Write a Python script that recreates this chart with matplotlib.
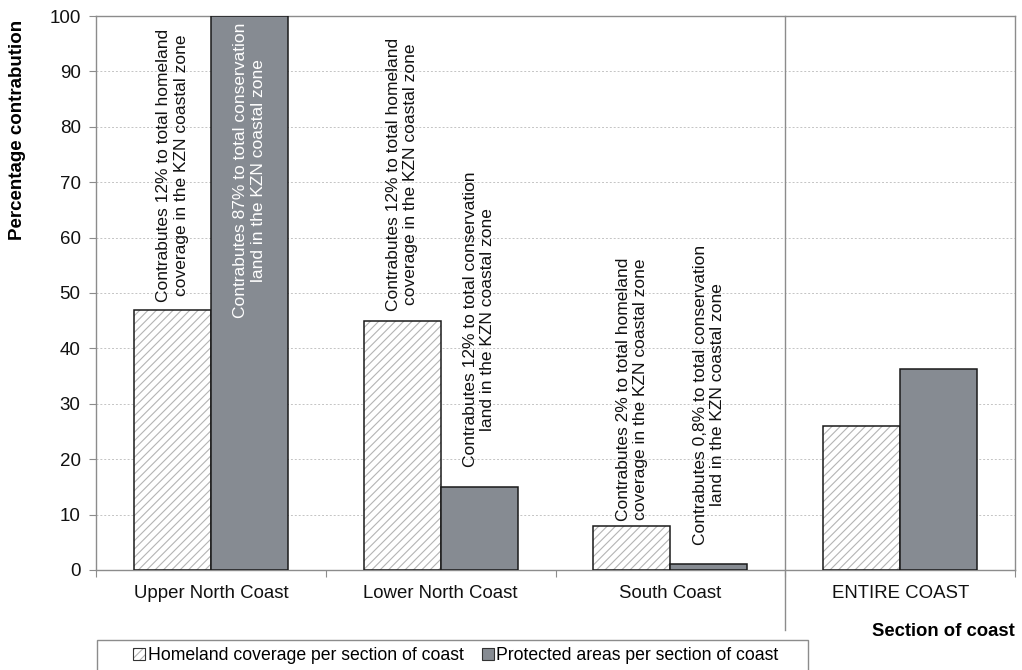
import numpy as np
import matplotlib.pyplot as plt
from matplotlib.patches import Patch, Rectangle
import matplotlib.transforms as mtransforms

plt.rcParams['font.family'] = ['Liberation Sans', 'DejaVu Sans']
plt.rcParams['hatch.linewidth'] = 0.8

sections = ['Upper North Coast', 'Lower North Coast', 'South Coast', 'ENTIRE COAST']
homeland = [47, 45, 8, 26]
protected = [100, 15, 1, 36.2]

homeland_notes = [
    'Contrabutes 12% to total homeland\ncoverage in the KZN coastal zone',
    'Contrabutes 12% to total homeland\ncoverage in the KZN coastal zone',
    'Contrabutes 2% to total homeland\ncoverage in the KZN coastal zone',
]
protected_notes = [
    'Contrabutes 87% to total conservation\nland in the KZN coastal zone',
    'Contrabutes 12% to total conservation\nland in the KZN coastal zone',
    'Contrabutes 0,8% to total conservation\nland in the KZN coastal zone',
]
# where each note starts (bottom of the rotated text), in axis units
homeland_note_y = [48.4, 46.8, 8.8]
protected_note_y = [45.5, 18.6, 4.5]

hatch_grey = '#b4b4b4'
fill_grey = '#868b92'
frame_grey = '#8c8c8c'

fig = plt.figure(figsize=(10.22, 6.70), dpi=100)
ax = fig.add_axes([0.0939, 0.1493, 0.9932 - 0.0939, 0.9761 - 0.1493])

x = np.arange(len(sections))
w = 0.335

ax.bar(x - w / 2, homeland, w, color='white', edgecolor=hatch_grey,
       hatch='////', linewidth=0, zorder=2)
ax.bar(x - w / 2, homeland, w, color='none', edgecolor='#1a1a1a',
       linewidth=1.1, zorder=3)
ax.bar(x + w / 2, protected, w, color=fill_grey, edgecolor='#1a1a1a',
       linewidth=1.1, zorder=3)

for i, note in enumerate(homeland_notes):
    ax.text(x[i] - w / 2, homeland_note_y[i], note, rotation=90,
            ha='center', va='bottom', multialignment='center',
            fontsize=12.5, color='#111111', linespacing=1.22, zorder=4)
for i, note in enumerate(protected_notes):
    ax.text(x[i] + w / 2, protected_note_y[i], note, rotation=90,
            ha='center', va='bottom', multialignment='center',
            fontsize=12.5, color='white' if protected[i] > 50 else '#111111',
            linespacing=1.22, zorder=4)

ax.set_xlim(-0.5, len(sections) - 0.5)
ax.set_ylim(0, 100)
ax.set_yticks(np.arange(0, 101, 10))
ax.yaxis.grid(True, color='#c4c4c4', linestyle=(0, (2, 2)), linewidth=0.7)
ax.set_axisbelow(True)

# category labels sit between the boundary ticks
ax.set_xticks(np.arange(-0.5, len(sections), 1.0))
ax.set_xticklabels([])
ax.set_xticks(x, minor=True)
ax.set_xticklabels(sections, minor=True, fontsize=13.4, color='#111111')
ax.tick_params(axis='x', which='minor', length=0, pad=11)
ax.tick_params(axis='x', which='major', length=5, color=frame_grey)
ax.tick_params(axis='y', length=5, color=frame_grey, labelsize=13.5,
               labelcolor='#111111', pad=6)

for s in ax.spines.values():
    s.set_color(frame_grey)
    s.set_linewidth(1.0)

# divider in front of the whole-coast group, running down past the axis
trans = mtransforms.blended_transform_factory(ax.transData, ax.transAxes)
ax.plot([2.5, 2.5], [1, -0.108], transform=trans, color=frame_grey,
        linewidth=1.0, clip_on=False, zorder=1)

ax.set_ylabel('Percentage contrabution', fontsize=13.5, fontweight='bold')
ax.yaxis.set_label_coords(-0.076, 0.795)

fig.text(0.993, 0.057, 'Section of coast', ha='right', va='center',
         fontsize=13.3, fontweight='bold')

# legend
fig.patches.append(Rectangle((97 / 1022, -0.02), (808 - 97) / 1022, 0.065,
                             transform=fig.transFigure, facecolor='white',
                             edgecolor=frame_grey, linewidth=1.0))
h1 = (Patch(facecolor='white', edgecolor=hatch_grey, hatch='////', linewidth=0),
      Patch(facecolor='none', edgecolor='#333333', linewidth=0.8))
h2 = Patch(facecolor=fill_grey, edgecolor='#333333', linewidth=0.8)
fig.legend([h1, h2], ['Homeland coverage per section of coast',
                      'Protected areas per section of coast'],
           loc='center left', bbox_to_anchor=(133 / 1022, 0.021), ncol=2,
           frameon=False, fontsize=12.7, handlelength=0.7, handleheight=0.7,
           handletextpad=0.15, columnspacing=1.0, borderpad=0, borderaxespad=0)

fig.savefig('out.png', dpi=100)
